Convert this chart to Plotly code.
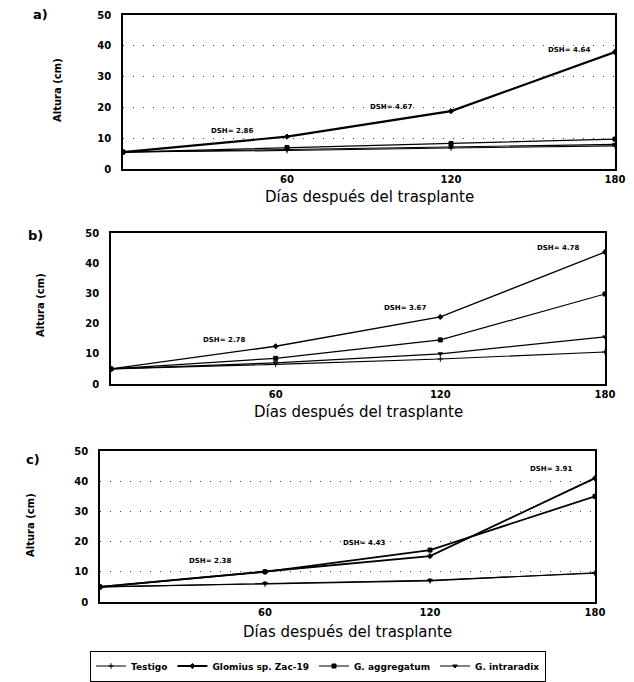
import plotly.graph_objects as go

days = [0, 60, 120, 180]
series_names = ["Testigo", "Glomius sp. Zac-19", "G. aggregatum", "G. intraradix"]

# Panel a
a_testigo = [5.5, 6.0, 6.8, 7.5]
a_glomus = [5.5, 10.5, 18.8, 38.0]
a_aggreg = [5.5, 7.0, 8.3, 9.7]
a_intra = [5.5, 6.3, 7.2, 8.0]
# Panel b
b_testigo = [5.0, 6.5, 8.3, 10.6]
b_glomus = [5.0, 12.5, 22.2, 43.7]
b_aggreg = [5.0, 8.5, 14.6, 29.8]
b_intra = [5.0, 7.0, 10.0, 15.6]
# Panel c
c_testigo = [5.0, 6.0, 7.0, 9.7]
c_glomus = [5.0, 10.0, 15.2, 41.0]
c_aggreg = [5.0, 10.0, 17.2, 35.0]
c_intra = [5.0, 6.2, 7.2, 9.5]

# DSH labels (text, day, height)
a_dsh = [("DSH= 2.86", 40, 12.3), ("DSH= 4.67", 98, 20.0), ("DSH= 4.64", 163, 38.5)]
b_dsh = [("DSH= 2.78", 41, 14.6), ("DSH= 3.67", 107, 25.0), ("DSH= 4.78", 163, 45.0)]
c_dsh = [("DSH= 2.38", 40, 13.6), ("DSH= 4.43", 96, 19.5), ("DSH= 3.91", 164, 44.0)]

x_ticks = [60, 120, 180]
y_ticks = [0, 10, 20, 30, 40, 50]

W, H = 634, 682
fig = go.Figure()

panels = [
    ("a)", [a_testigo, a_glomus, a_aggreg, a_intra], a_dsh, (123, 615), (15, 169), True, 197, (57, 90), (40, 15),
     [1.1, 2.2, 1.2, 1.2]),
    ("b)", [b_testigo, b_glomus, b_aggreg, b_intra], b_dsh, (111, 605), (233, 384), False, 412, (40, 305), (35, 235),
     [1.1, 1.3, 1.2, 1.2]),
    ("c)", [c_testigo, c_glomus, c_aggreg, c_intra], c_dsh, (100, 595), (451, 602), True, 632, (30, 525), (33, 460),
     [1.1, 1.8, 1.8, 1.1]),
]

symbols = ["cross-thin-open", "diamond", "square", "triangle-down"]

annotations = []
for i, (lab, data, dsh, (x0, x1), (y0, y1), grid, xtitle_y, ytitle_pos, lab_pos, widths) in enumerate(panels):
    k = "" if i == 0 else str(i + 1)
    xa, ya = "x" + k, "y" + k
    for j, vals in enumerate(data):
        fig.add_trace(go.Scatter(
            x=days, y=vals, mode="lines+markers", name=series_names[j],
            xaxis=xa, yaxis=ya, showlegend=(i == 0),
            line=dict(color="black", width=widths[j]),
            marker=dict(symbol=symbols[j], size=4, color="black",
                        line=dict(color="black", width=1)),
        ))
    axis_common = dict(showline=True, linecolor="black", linewidth=1.5, mirror=True,
                       zeroline=False, ticks="")
    fig.update_layout(**{
        ("xaxis" + k): dict(domain=[x0 / W, x1 / W], range=[0, 180], tickvals=x_ticks,
                            showgrid=False, anchor=ya, ticklabelstandoff=0,
                            tickfont=dict(family="DejaVu Sans", size=10, color="black", weight="bold"),
                            **axis_common),
        ("yaxis" + k): dict(domain=[1 - y1 / H, 1 - y0 / H], range=[0, 50], tickvals=y_ticks,
                            showgrid=grid, griddash="1px,9px", gridcolor="#444", gridwidth=1.2,
                            anchor=xa, ticklabelstandoff=8,
                            tickfont=dict(family="DejaVu Sans", size=10, color="black", weight="bold"),
                            **axis_common),
    })
    for txt, dx, dy in dsh:
        annotations.append(dict(text=txt, x=dx, y=dy, xref=xa, yref=ya, showarrow=False,
                                font=dict(family="DejaVu Sans", size=7, color="black", weight="bold")))
    annotations.append(dict(text="Días después del trasplante", x=(x0 + x1) / 2 / W, y=1 - xtitle_y / H,
                            xref="paper", yref="paper", showarrow=False,
                            xanchor="center", yanchor="middle",
                            font=dict(family="DejaVu Sans", size=15, color="black")))
    annotations.append(dict(text="Altura (cm)", x=ytitle_pos[0] / W, y=1 - ytitle_pos[1] / H,
                            xref="paper", yref="paper", showarrow=False, textangle=-90,
                            xanchor="center", yanchor="middle",
                            font=dict(family="DejaVu Sans", size=10, color="black", weight="bold")))
    annotations.append(dict(text=lab, x=lab_pos[0] / W, y=1 - lab_pos[1] / H,
                            xref="paper", yref="paper", showarrow=False,
                            xanchor="center", yanchor="middle",
                            font=dict(family="DejaVu Sans", size=13, color="black", weight="bold")))

fig.update_layout(
    width=W, height=H,
    margin=dict(l=0, r=0, t=0, b=0, autoexpand=False),
    paper_bgcolor="white", plot_bgcolor="white",
    annotations=annotations,
    legend=dict(orientation="h", x=318 / W, y=1 - 666 / H, xanchor="center", yanchor="middle",
                bordercolor="black", borderwidth=1, bgcolor="white",
                font=dict(family="DejaVu Sans", size=9, color="black", weight="bold"),
                itemwidth=30, tracegroupgap=0),
)

fig.write_html("out.html")
